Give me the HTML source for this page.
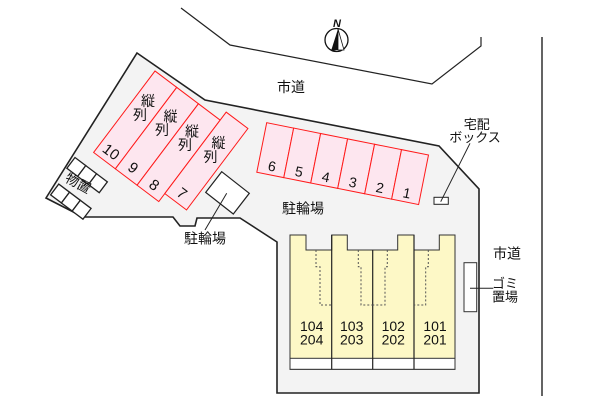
<!DOCTYPE html>
<html><head><meta charset="utf-8">
<style>
html,body{margin:0;padding:0;background:#fff;}
svg{display:block;}
text{font-family:"Liberation Sans","Noto Sans CJK JP",sans-serif;fill:#111;}
</style></head>
<body>
<svg width="600" height="400" viewBox="0 0 600 400" xmlns="http://www.w3.org/2000/svg">
<!-- road lines -->
<polyline points="181,8 230,45 432,84 481,46 481,37" fill="none" stroke="#222" stroke-width="1.2"/>
<line x1="542" y1="37" x2="542" y2="396" stroke="#222" stroke-width="1.4"/>

<!-- north -->
<circle cx="336.5" cy="40" r="11.5" fill="#fff" stroke="#111" stroke-width="1.3"/>
<polygon points="338,29 331,51 338,50" fill="#111"/>
<polygon points="338,29 338,50 344,50" fill="#fff" stroke="#111" stroke-width="0.8"/>
<text x="337" y="27" font-size="11" font-weight="bold" font-style="italic" text-anchor="middle">N</text>

<text x="291" y="87" font-size="14" text-anchor="middle" dominant-baseline="central">市道</text>

<!-- lot -->
<polygon points="137,53 205,100 439,146 479,189 479,393 277,393 277,242 240,218 197,218 195,226 180,226 173,217 83,217 46,198"
 fill="#f3f3f3" stroke="#222" stroke-width="1.6" stroke-linejoin="miter"/>

<!-- parallel slots 10-7 -->
<g transform="translate(155,71) rotate(37)">
  <g fill="#fde6ef" stroke="#ff1a1a" stroke-width="1">
    <rect x="0" y="0" width="27.2" height="102"/>
    <rect x="27.2" y="0" width="27.2" height="102"/>
    <rect x="54.4" y="0" width="27.2" height="102"/>
    <rect x="81.6" y="-10" width="27.2" height="102"/>
  </g>
  <g font-size="15" text-anchor="middle" dominant-baseline="central">
    <text x="13.6" y="91.5">10</text>
    <text x="40.8" y="91">9</text>
    <text x="68" y="92">8</text>
    <text x="95.2" y="82">7</text>
  </g>
</g>
<g font-size="14" text-anchor="middle" dominant-baseline="central">
  <text x="148" y="101">縦</text><text x="140" y="115">列</text>
  <text x="170.5" y="116.5">縦</text><text x="162" y="130">列</text>
  <text x="192" y="131.5">縦</text><text x="185" y="145">列</text>
  <text x="218.5" y="143">縦</text><text x="210.5" y="157">列</text>
</g>

<!-- slots 6-1 -->
<g transform="translate(266.7,122.7) rotate(11.3)">
  <g fill="#fde6ef" stroke="#ff1a1a" stroke-width="1">
    <rect x="0" y="0" width="27.5" height="50.5"/>
    <rect x="27.5" y="0" width="27.5" height="50.5"/>
    <rect x="55" y="0" width="27.5" height="50.5"/>
    <rect x="82.5" y="0" width="27.5" height="50.5"/>
    <rect x="110" y="0" width="27.5" height="50.5"/>
    <rect x="137.5" y="0" width="27.5" height="50.5"/>
  </g>
  <g font-size="14" text-anchor="middle" dominant-baseline="central">
    <text x="13.75" y="41.5">6</text>
    <text x="41.25" y="41.5">5</text>
    <text x="68.75" y="41.5">4</text>
    <text x="96.25" y="41.5">3</text>
    <text x="123.75" y="41.5">2</text>
    <text x="151.25" y="41.5">1</text>
  </g>
</g>

<!-- storage -->
<g transform="translate(75,157.5) rotate(37)" fill="#fff" stroke="#222" stroke-width="1.3">
  <rect x="0" y="0" width="13.5" height="13.5"/>
  <rect x="13.5" y="0" width="13.5" height="13.5"/>
  <rect x="27" y="0" width="13.5" height="13.5"/>
  <rect x="3" y="31" width="13.5" height="13.5"/>
  <rect x="16.5" y="31" width="13.5" height="13.5"/>
  <rect x="30" y="31" width="13.5" height="13.5"/>
</g>
<text x="78" y="183.5" font-size="13.5" text-anchor="middle" dominant-baseline="central" transform="rotate(29 78 183.5)">物置</text>

<!-- bicycle box -->
<polygon points="221.7,171.7 249.3,193.3 233.3,214 205.7,192.4" fill="#fff" stroke="#222" stroke-width="1.2"/>
<line x1="226.7" y1="193.3" x2="205" y2="230" stroke="#222" stroke-width="1"/>
<text x="205" y="238.5" font-size="14" text-anchor="middle" dominant-baseline="central">駐輪場</text>
<text x="303" y="208.5" font-size="14" text-anchor="middle" dominant-baseline="central">駐輪場</text>

<!-- delivery box -->
<rect x="434" y="197.3" width="14.3" height="7" fill="#fff" stroke="#222" stroke-width="1"/>
<line x1="440.7" y1="201.7" x2="470" y2="143.3" stroke="#222" stroke-width="1"/>
<text x="476.7" y="124.5" font-size="13" text-anchor="middle" dominant-baseline="central">宅配</text>
<text x="475" y="137.5" font-size="13" text-anchor="middle" dominant-baseline="central">ボックス</text>

<!-- building -->
<polygon points="290,235 306,235 306,250 331.7,250 331.7,235 347.3,235 347.3,250 397.7,250 397.7,235 414,235 414,250 439.3,250 439.3,235 455,235 455,369.3 290,369.3"
 fill="#fdf8c6" stroke="#333" stroke-width="1"/>
<rect x="290" y="358.3" width="165" height="11" fill="#fff" stroke="#333" stroke-width="1"/>
<g stroke="#222" stroke-width="1.2">
  <line x1="331.7" y1="235" x2="331.7" y2="369.3"/>
  <line x1="372.7" y1="250" x2="372.7" y2="369.3"/>
  <line x1="414" y1="235" x2="414" y2="369.3"/>
</g>
<g fill="none" stroke="#555" stroke-width="1" stroke-dasharray="2,2">
  <polyline points="316,250 316,266.7 320,266.7 320,305 331.7,305"/>
  <polyline points="358.3,250 358.3,266.7 361,266.7 361,305 372.7,305"/>
  <polyline points="387.3,250 387.3,266.7 385,266.7 385,305 372.7,305"/>
  <polyline points="428.3,250 428.3,266.7 425.7,266.7 425.7,305 414,305"/>
</g>
<g font-size="14" text-anchor="middle" dominant-baseline="central">
  <text x="311.7" y="326">104</text><text x="311.7" y="339.5">204</text>
  <text x="351.7" y="326">103</text><text x="351.7" y="339.5">203</text>
  <text x="393.3" y="326">102</text><text x="393.3" y="339.5">202</text>
  <text x="435" y="326">101</text><text x="435" y="339.5">201</text>
</g>

<!-- garbage -->
<rect x="464" y="262.7" width="12.7" height="49" fill="#fff" stroke="#333" stroke-width="1"/>
<line x1="470" y1="288.3" x2="493.3" y2="288.3" stroke="#222" stroke-width="1"/>
<text x="505" y="283.5" font-size="13" text-anchor="middle" dominant-baseline="central">ゴミ</text>
<text x="505" y="297" font-size="13" text-anchor="middle" dominant-baseline="central">置場</text>
<text x="507" y="253.5" font-size="14" text-anchor="middle" dominant-baseline="central">市道</text>
</svg>
</body></html>
